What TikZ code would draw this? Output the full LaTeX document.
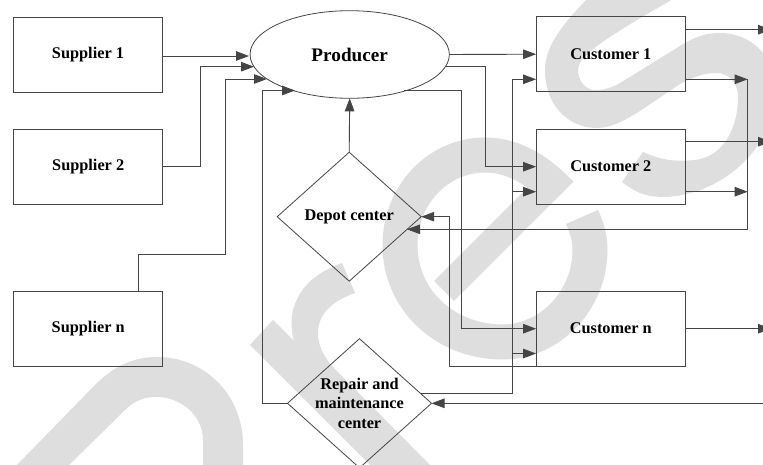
\documentclass[tikz,border=0pt]{standalone}
\usepackage{fontspec}
\setmainfont{Liberation Serif}
\usetikzlibrary{arrows.meta,shapes.geometric}
\definecolor{wm}{HTML}{DEDEDE}
\definecolor{ink}{HTML}{454545}
\tikzset{
  boxnode/.style={draw=ink,line width=0.9pt,minimum width=149.4pt,minimum height=75pt,inner sep=0pt,outer sep=0pt,text=black,font=\fontsize{16.3}{19.5}\selectfont\bfseries},
  diamondnode/.style={diamond,draw=ink,line width=0.8pt,minimum width=144pt,minimum height=129pt,inner sep=0pt,outer sep=0pt,align=center,text=black,font=\fontsize{16.3}{19.5}\selectfont\bfseries},
  ellipsenode/.style={ellipse,draw=ink,line width=0.8pt,minimum width=199.3pt,minimum height=87.6pt,inner sep=0pt,outer sep=0pt,text=black,font=\fontsize{19.2}{22}\selectfont\bfseries},
  conn/.style={draw=ink,line width=0.9pt,-{Triangle[length=13pt,width=9.5pt]}},
  watermark/.style={fill=wm,draw=none}
}
\begin{document}
\begin{tikzpicture}[x=1pt,y=-1pt]
\useasboundingbox (0,0) rectangle (763,465);
\clip (0,0) rectangle (763,465);
\fill[white] (0,0) rectangle (763,465);
% watermark p
\fill[watermark] (15,467) -- (95,385) .. controls (115,365) and (135,357) .. (157,357) .. controls (205,357) and (243,395) .. (243,445) -- (243,467) -- (203,467) -- (203,440) .. controls (203,415) and (180,397) .. (157,397) .. controls (145,397) and (135,400) .. (125,410) -- (67,467) -- cycle;
% watermark r
\fill[watermark] (250,345) -- (273,320) -- (294,341) .. controls (291,330) and (291,320) .. (293,310) .. controls (300,285) and (318,272) .. (342,263) -- (355,293) .. controls (335,300) and (318,312) .. (318,333) .. controls (318,345) and (323,355) .. (331,365) -- (435,470) -- (375,470) -- cycle;
% watermark e
\draw[wm,line width=35pt] (582,217) .. controls (587,228) and (590,238) .. (590,250) .. controls (590,300) and (550,342) .. (503,342) .. controls (445,342) and (400,300) .. (400,245) .. controls (400,195) and (438,155) .. (485,155) .. controls (515,155) and (540,172) .. (561,194);
\draw[wm,line width=28pt] (444,291) -- (555,180);
% watermark s
\fill[watermark] (588,-2) .. controls (565,22) and (545,45) .. (545,70) .. controls (545,105) and (568,128) .. (597,128) .. controls (612,128) and (625,120) .. (640,111) -- (680,84) .. controls (695,76) and (705,73) .. (716,73) .. controls (730,73) and (738,84) .. (738,97) .. controls (738,130) and (722,157) .. (695,160) .. controls (675,162) and (660,160) .. (643,152) -- (622,182) .. controls (635,192) and (645,197) .. (665,197) .. controls (720,195) and (775,150) .. (775,90) .. controls (775,55) and (750,33) .. (720,33) .. controls (705,33) and (695,37) .. (680,46) -- (625,80) .. controls (610,90) and (600,90) .. (595,90) .. controls (585,90) and (578,80) .. (578,70) .. controls (578,55) and (610,35) .. (675,-2) -- cycle;
% nodes
\node[boxnode] (s1) at (88,54.7) {Supplier 1};
\node[boxnode] (s2) at (88.2,166.7) {Supplier 2};
\node[boxnode] (sn) at (88.2,329) {Supplier n};
\node[boxnode] (c1) at (610.8,54.2) {Customer 1};
\node[boxnode] (c2) at (610.8,166.7) {Customer 2};
\node[boxnode] (cn) at (610.8,328.7) {Customer n};
\node[ellipsenode] (prod) at (349.7,54.5) {Producer};
\node[diamondnode] (depot) at (349.2,216.7) {Depot center};
\node[diamondnode,minimum height=129.2pt] (repair) at (359.5,403.3) {\smash{\makebox[0pt]{\raisebox{-6pt}{\begin{tabular}{@{}c@{}}Repair and\\maintenance\\center\end{tabular}}}}};
% free ends and bus points
\coordinate (pin1) at (249,56);
\coordinate (pin2) at (254,66.7);
\coordinate (pin3) at (267,79);
\coordinate (pin4) at (295,90.5);
\coordinate (pout2) at (446,66.7);
\coordinate (pout3) at (404,90.3);
\coordinate (rout) at (420.5,393.3);
\coordinate (dtip2) at (407,229.3);
\coordinate (rbus) at (747.7,79.3);
\coordinate (e1) at (771,29.7);
\coordinate (e2) at (771,141.7);
\coordinate (e3) at (771,328.7);
\coordinate (rin) at (770,403.3);
\coordinate (busT) at (512.7,79.3);
% connectors
\draw[conn] (s1.east |- pin1) -- (pin1);
\draw[conn] (s2.east) -- (200,166.7) |- (pin2);
\draw[conn] (138,291.5) |- (225,254) |- (pin3);
\draw[conn] (repair.west) -- (262.5,403.3) |- (pin4);
\draw[conn] (depot.north) -- (prod.south);
\draw[conn] (prod.east) -- (c1.west);
\draw[conn] (pout2) -- (485.5,66.7) |- (c2.west);
\draw[conn] (pout3) -- (461.5,90.3) |- (cn.west);
\draw[conn] (rout) -| (busT) -- (c1.west |- busT);
\draw[conn] (busT |- 0,191.7) -- (c2.west |- 0,191.7);
\draw[conn] (busT |- 0,353.5) -- (cn.west |- 0,353.5);
\draw[conn] (cn.south west) -- (449,366.2) |- (depot.east);
\draw[conn] (c1.east |- e1) -- (e1);
\draw[conn] (c2.east |- e2) -- (e2);
\draw[conn] (cn.east) -- (e3);
\draw[conn] (c1.east |- rbus) -- (rbus);
\draw[conn] (c2.east |- 0,191.7) -- (rbus |- 0,191.7);
\draw[conn] (rbus) |- (dtip2);
\draw[conn] (rin) -- (repair.east);
\end{tikzpicture}
\end{document}
